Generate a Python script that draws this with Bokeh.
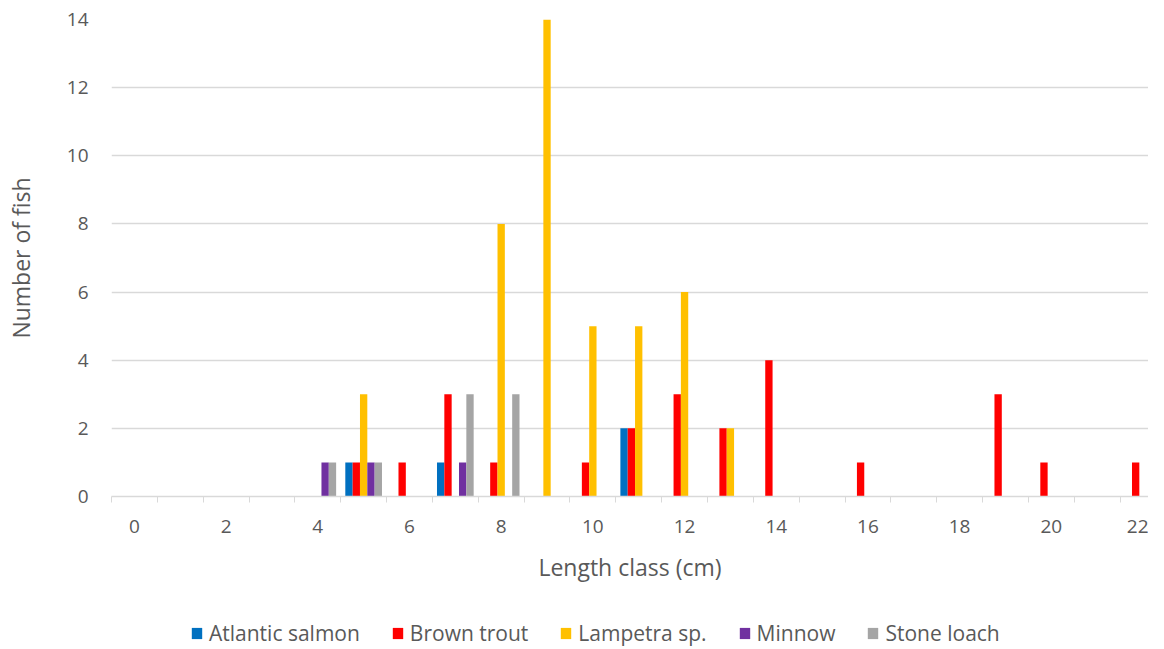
from bokeh.plotting import figure
from bokeh.layouts import column
from bokeh.models import ColumnDataSource, FixedTicker, Legend, LegendItem, Range1d
from bokeh.transform import dodge
from bokeh.embed import file_html
from bokeh.resources import INLINE

length_class = list(range(0, 23))
atlantic_salmon = [0, 0, 0, 0, 0, 1, 0, 1, 0, 0, 0, 2, 0, 0, 0, 0, 0, 0, 0, 0, 0, 0, 0]
brown_trout     = [0, 0, 0, 0, 0, 1, 1, 3, 1, 0, 1, 2, 3, 2, 4, 0, 1, 0, 0, 3, 1, 0, 1]
lampetra        = [0, 0, 0, 0, 0, 3, 0, 0, 8, 14, 5, 5, 6, 2, 0, 0, 0, 0, 0, 0, 0, 0, 0]
minnow          = [0, 0, 0, 0, 1, 1, 0, 1, 0, 0, 0, 0, 0, 0, 0, 0, 0, 0, 0, 0, 0, 0, 0]
stone_loach     = [0, 0, 0, 0, 1, 1, 0, 3, 3, 0, 0, 0, 0, 0, 0, 0, 0, 0, 0, 0, 0, 0, 0]
x_tick_labels = [0, 2, 4, 6, 8, 10, 12, 14, 16, 18, 20, 22]
y_ticks = [0, 2, 4, 6, 8, 10, 12, 14]

series_names = ["Atlantic salmon", "Brown trout", "Lampetra sp.", "Minnow", "Stone loach"]
series_vals = [atlantic_salmon, brown_trout, lampetra, minnow, stone_loach]
colors = ["#0070C0", "#FF0000", "#FFC000", "#7030A0", "#A5A5A5"]

FONT = "Open Sans"
TXT = "#595959"
GRID = "#D9D9D9"

src = ColumnDataSource(dict(x=length_class, **{f"s{i}": v for i, v in enumerate(series_vals)}))

X_END = 22.12

p = figure(width=1148, height=592, output_backend="svg", toolbar_location=None,
           x_range=Range1d(-0.5, X_END), y_range=Range1d(0, 14),
           min_border_left=111, min_border_right=0, min_border_top=19, min_border_bottom=96)
p.outline_line_color = None
p.background_fill_color = "white"
p.border_fill_color = "white"

bw = 0.16
offsets = [-2 * bw, -bw, 0, bw, 2 * bw]
for i, name in enumerate(series_names):
    p.vbar(x=dodge("x", offsets[i], range=p.x_range), top=f"s{i}", width=bw,
           source=src, fill_color=colors[i], line_color=None)

# axes
p.xaxis.ticker = FixedTicker(ticks=x_tick_labels, minor_ticks=[k - 0.5 for k in range(24)])
p.xaxis.major_tick_out = 0
p.xaxis.major_tick_in = 0
p.xaxis.minor_tick_out = 6
p.xaxis.minor_tick_in = 0
p.xaxis.minor_tick_line_color = GRID
p.xaxis.axis_line_color = GRID
p.xaxis.axis_line_width = 1.5
p.xaxis.major_label_text_font = FONT
p.xaxis.major_label_text_font_size = "19px"
p.xaxis.major_label_text_color = TXT
p.xaxis.major_label_standoff = 17
p.xaxis.axis_label = "Length class (cm)"
p.xaxis.axis_label_text_font = FONT
p.xaxis.axis_label_text_font_size = "23px"
p.xaxis.axis_label_text_font_style = "normal"
p.xaxis.axis_label_text_color = TXT
p.xaxis.axis_label_standoff = 15

p.yaxis.ticker = FixedTicker(ticks=y_ticks)
p.yaxis.axis_line_color = None
p.yaxis.major_tick_line_color = None
p.yaxis.minor_tick_line_color = None
p.yaxis.major_label_text_font = FONT
p.yaxis.major_label_text_font_size = "19px"
p.yaxis.major_label_text_color = TXT
p.yaxis.major_label_standoff = 17
p.yaxis.axis_label = "Number of fish"
p.yaxis.axis_label_text_font = FONT
p.yaxis.axis_label_text_font_size = "23px"
p.yaxis.axis_label_text_font_style = "normal"
p.yaxis.axis_label_text_color = TXT
p.yaxis.axis_label_standoff = 27

p.xgrid.grid_line_color = None
p.ygrid.grid_line_color = GRID
p.ygrid.grid_line_width = 1.5

# legend strip below the chart (bars drawn far outside its visible y range)
pl = figure(width=1148, height=55, output_backend="svg", toolbar_location=None,
            x_axis_type=None, y_axis_type=None, x_range=Range1d(-0.5, X_END), y_range=Range1d(100, 101),
            min_border_left=111, min_border_right=0, min_border_top=0, min_border_bottom=0)
pl.outline_line_color = None
pl.grid.visible = False
leg_renderers = [pl.vbar(x=dodge("x", offsets[i], range=pl.x_range), top=f"s{i}", width=bw,
                         source=src, fill_color=c, line_color=None) for i, c in enumerate(colors)]
legend = Legend(items=[LegendItem(label=n, renderers=[r]) for n, r in zip(series_names, leg_renderers)],
                orientation="horizontal", location=(79, 0),
                glyph_width=13, glyph_height=14, label_standoff=6, spacing=31,
                label_text_font=FONT, label_text_font_size="21px", label_text_color=TXT,
                border_line_color=None, background_fill_alpha=0, margin=0, padding=0)
pl.add_layout(legend, "center")

open("out.html", "w").write(file_html(column(p, pl, spacing=0), INLINE))
